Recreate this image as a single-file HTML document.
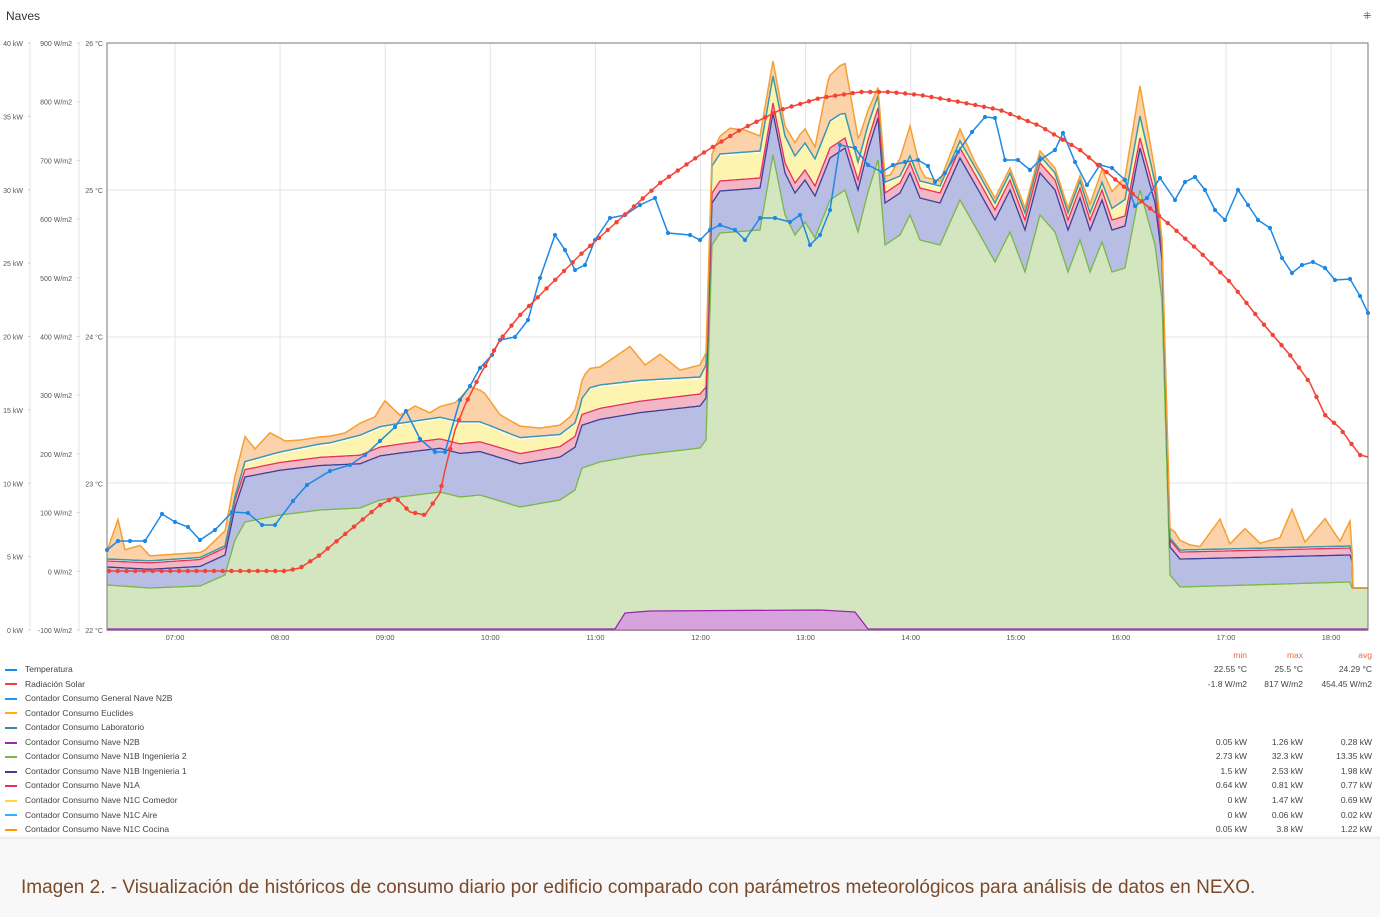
<!DOCTYPE html>
<html><head><meta charset="utf-8">
<style>
body{margin:0;width:1380px;height:916px;background:#fff;font-family:"Liberation Sans",sans-serif;overflow:hidden;position:relative}
.lg{position:absolute;left:5px;font-size:8.5px;color:#444;white-space:nowrap}
.lg i{display:inline-block;width:12px;height:2px;vertical-align:middle;margin-right:8px}
.v{position:absolute;font-size:8.5px;color:#444;text-align:right;width:60px}
</style></head><body>
<div style="position:absolute;left:6px;top:9px;font-size:12px;color:#333">Naves</div>
<div style="position:absolute;left:1363px;top:11px;font-size:10px;color:#444">⁜</div>
<svg id="s" width="1380" height="840" style="position:absolute;left:0;top:0"></svg>
<div id="lg"></div>
<div style="position:absolute;left:0;top:838px;width:1380px;height:78px;background:#f8f8f8;border-top:1px solid #e8e8e8"></div>
<div style="position:absolute;left:21px;top:877px;font-size:19px;color:#7a4a2a;font-family:'Liberation Sans',sans-serif;white-space:nowrap">Imagen 2. - Visualización de históricos de consumo diario por edificio comparado con parámetros meteorológicos para análisis de datos en NEXO.</div>
<script>
const s=document.getElementById('s');let h='';
const X0=107,X1=1368,Y0=43,Y1=630;
const hs=['07:00','08:00','09:00','10:00','11:00','12:00','13:00','14:00','15:00','16:00','17:00','18:00'];
hs.forEach((t,i)=>{const x=175+i*105.1;h+=`<line x1="${x}" y1="${Y0}" x2="${x}" y2="${Y1}" stroke="#e4e4e4"/>`;h+=`<text x="${x}" y="640" font-size="7.5" fill="#555" text-anchor="middle">${t}</text>`});
[190,337,483].forEach(y=>h+=`<line x1="${X0}" y1="${y}" x2="${X1}" y2="${y}" stroke="#e4e4e4"/>`);
for(let i=0;i<=8;i++){const y=Y0+i*73.375;h+=`<text x="23" y="${y+3}" font-size="7" fill="#555" text-anchor="end">${40-5*i} kW</text><line x1="28" y1="${y}" x2="31" y2="${y}" stroke="#ccc"/>`}
for(let i=0;i<=10;i++){const y=Y0+i*58.7;h+=`<text x="72" y="${y+3}" font-size="7" fill="#555" text-anchor="end">${900-100*i} W/m2</text><line x1="77" y1="${y}" x2="80" y2="${y}" stroke="#ccc"/>`}
for(let i=0;i<=4;i++){const y=Y0+i*146.75;h+=`<text x="103" y="${y+3}" font-size="7" fill="#555" text-anchor="end">${26-i} °C</text>`}
h+=`<line x1="30" y1="${Y0}" x2="30" y2="${Y1}" stroke="#e4e4e4"/><line x1="79" y1="${Y0}" x2="79" y2="${Y1}" stroke="#e4e4e4"/>`;
function interp(p,x){for(let i=0;i<p.length-1;i++){if(x<=p[i+1][0]){const t=(x-p[i][0])/(p[i+1][0]-p[i][0]||1);return p[i][1]+t*(p[i+1][1]-p[i][1])}}return p[p.length-1][1]}
const G=[[107,585],[150,588],[200,586],[225,575],[235,540],[245,522],[280,515],[320,510],[360,508],[380,500],[400,497],[440,492],[460,497],[480,495],[520,507],[560,500],[575,490],[582,468],[600,462],[640,455],[700,448],[706,440],[712,245],[720,233],[760,230],[773,155],[785,215],[795,235],[805,222],[815,238],[830,200],[845,190],[858,232],[868,192],[878,160],[885,245],[900,235],[910,215],[920,240],[940,245],[960,200],[980,235],[995,262],[1010,232],[1025,272],[1040,215],[1055,232],[1068,272],[1080,240],[1090,272],[1102,242],[1112,272],[1125,268],[1140,190],[1155,245],[1162,300],[1170,575],[1180,587],[1250,585],[1350,582],[1352,588],[1368,588]];
const B=[[107,18],[225,20],[245,45],[700,42],[712,42],[1160,42],[1170,28],[1352,27],[1353,0],[1368,0]];
const P=[[107,6],[700,12],[712,10],[1160,10],[1170,7],[1352,7],[1353,0],[1368,0]];
const Yw=[[107,0],[230,0],[245,6],[330,12],[360,18],[460,20],[560,10],[580,12],[590,22],[700,15],[712,25],[840,25],[860,15],[900,5],[1100,5],[1140,20],[1160,5],[1170,0],[1368,0]];
const O=[[107,8],[118,40],[125,10],[140,15],[150,5],[205,5],[215,10],[235,20],[245,25],[255,10],[270,22],[285,10],[300,8],[345,6],[360,12],[375,12],[385,25],[400,8],[415,15],[430,6],[455,18],[470,35],[485,30],[500,15],[540,8],[570,10],[585,20],[600,18],[630,35],[645,15],[660,25],[680,8],[700,12],[712,12],[730,25],[745,22],[760,15],[773,15],[785,10],[800,15],[815,12],[828,45],[845,50],[860,20],[878,8],[890,5],[910,30],[925,5],[940,5],[960,12],[975,5],[1000,5],[1040,5],[1080,5],[1120,20],[1140,30],[1160,5],[1175,12],[1190,5],[1200,3],[1220,30],[1230,5],[1245,20],[1260,5],[1280,10],[1292,38],[1305,5],[1325,28],[1340,5],[1350,25],[1352,0],[1368,0]];
let L=[[],[],[],[],[],[]];
for(let x=X0;x<=X1;x+=1){let g=interp(G,x),b=g-interp(B,x),p=b-interp(P,x),y=p-interp(Yw,x),t=y-2,o=t-interp(O,x);if(x>1352){b=p=y=t=o=g}L[0].push([x,g]);L[1].push([x,b]);L[2].push([x,p]);L[3].push([x,y]);L[4].push([x,t]);L[5].push([x,o])}
const pts=a=>a.map(p=>p[0]+','+p[1].toFixed(1)).join(' ');
function band(top,bot,fill){return `<polygon points="${pts(top)} ${pts(bot.slice().reverse())}" fill="${fill}"/>`}
const base=[[X0,Y1],[X1,Y1]];
h+=band(L[0],base,'#d3e6bf');
h+=band(L[1],L[0],'#b8bde3');h+=band(L[2],L[1],'#f2b6c4');h+=band(L[3],L[2],'#fdf4b0');h+=band(L[5],L[4],'#fbd2aa');
h+=`<polyline points="${pts(L[0])}" fill="none" stroke="#7ab648" stroke-width="1.3"/>`;
h+=`<polyline points="${pts(L[1])}" fill="none" stroke="#3f3f9a" stroke-width="1.3"/>`;
h+=`<polyline points="${pts(L[2])}" fill="none" stroke="#e8305a" stroke-width="1.3"/>`;
h+=`<polyline points="${pts(L[4])}" fill="none" stroke="#3b9aa8" stroke-width="1.5"/>`;
h+=`<polyline points="${pts(L[5])}" fill="none" stroke="#f5a030" stroke-width="1.5"/>`;
h+=`<polygon points="107,630 615,630 625,613 650,611 820,610 855,612 868,630 1368,630 1368,631 107,631" fill="#d7a3dc"/>`;
h+=`<polyline points="107,629 615,629 625,613 650,611 820,610 855,612 868,629 1368,629" fill="none" stroke="#9c27b0" stroke-width="1.3"/>`;
const T=[[107,550],[118,541],[130,541],[145,541],[162,514],[175,522],[188,527],[200,540],[215,530],[232,512],[248,513],[262,525],[275,525],[293,501],[307,485],[330,471],[350,465],[365,455],[380,441],[395,427],[406,411],[420,439],[435,452],[445,452],[460,400],[470,386],[480,368],[492,355],[500,340],[515,337],[528,320],[540,278],[555,235],[565,250],[575,270],[585,265],[595,240],[610,218],[625,215],[640,205],[655,198],[668,233],[690,235],[700,240],[710,230],[720,225],[735,230],[745,240],[760,218],[775,218],[790,222],[800,215],[810,245],[820,235],[830,210],[840,145],[855,148],[868,165],[882,172],[893,165],[905,162],[918,160],[928,166],[935,182],[945,173],[958,152],[972,132],[985,117],[995,118],[1005,160],[1018,160],[1030,170],[1040,160],[1055,150],[1063,133],[1075,162],[1087,185],[1100,165],[1112,168],[1125,180],[1135,206],[1147,198],[1160,178],[1175,200],[1185,182],[1195,177],[1205,190],[1215,210],[1225,220],[1238,190],[1248,205],[1258,220],[1270,228],[1282,258],[1292,273],[1302,265],[1313,262],[1325,268],[1335,280],[1350,279],[1360,296],[1368,313]];
h+=`<polyline points="${pts(T)}" fill="none" stroke="#1e88e5" stroke-width="1.5"/>`;
T.forEach(p=>h+=`<circle cx="${p[0]}" cy="${p[1]}" r="2.1" fill="#1e88e5"/>`);
const R=[[107,571],[285,571],[300,568],[320,555],[350,530],[380,505],[395,497],[410,512],[425,515],[440,493],[445,470],[455,430],[465,405],[480,375],[500,340],[520,315],[540,295],[560,275],[580,255],[600,237],[630,210],[660,183],[700,155],[740,130],[780,110],[820,98],[860,92],[890,92],[920,95],[960,102],[1000,110],[1040,126],[1080,150],[1110,175],[1140,200],[1170,225],[1200,252],[1230,282],[1260,320],[1290,355],[1310,383],[1325,415],[1340,428],[1350,442],[1360,455],[1368,457]];
h+=`<polyline points="${pts(R)}" fill="none" stroke="#f44336" stroke-width="1.5"/>`;
for(let x=X0+2;x<X1;x+=8.75){h+=`<circle cx="${x}" cy="${interp(R,x).toFixed(1)}" r="2.2" fill="#f44336"/>`}
h+=`<rect x="${X0}" y="${Y0}" width="${X1-X0}" height="${Y1-Y0}" fill="none" stroke="#777" stroke-width="1"/>`;
h+=`<line x1="0" y1="837" x2="1380" y2="837" stroke="#e8e8e8"/>`;
s.innerHTML=h;
const items=[['Temperatura','#1e88e5',['22.55 °C','25.5 °C','24.29 °C']],['Radiación Solar','#f44336',['-1.8 W/m2','817 W/m2','454.45 W/m2']],['Contador Consumo General Nave N2B','#2196f3'],['Contador Consumo Euclides','#ffb300'],['Contador Consumo Laboratorio','#3b8c9a'],['Contador Consumo Nave N2B','#9c27b0',['0.05 kW','1.26 kW','0.28 kW']],['Contador Consumo Nave N1B Ingenieria 2','#7ab648',['2.73 kW','32.3 kW','13.35 kW']],['Contador Consumo Nave N1B Ingenieria 1','#3f3f9a',['1.5 kW','2.53 kW','1.98 kW']],['Contador Consumo Nave N1A','#e8305a',['0.64 kW','0.81 kW','0.77 kW']],['Contador Consumo Nave N1C Comedor','#fdd835',['0 kW','1.47 kW','0.69 kW']],['Contador Consumo Nave N1C Aire','#29b6f6',['0 kW','0.06 kW','0.02 kW']],['Contador Consumo Nave N1C Cocina','#ff9800',['0.05 kW','3.8 kW','1.22 kW']]];
let g='';
const cx=[1187,1243,1312];
['min','max','avg'].forEach((t,i)=>g+=`<div class="v" style="top:650px;left:${cx[i]}px;color:#f0663a">${t}</div>`);
items.forEach((it,i)=>{const y=664+i*14.55;g+=`<div class="lg" style="top:${y}px"><i style="background:${it[1]}"></i>${it[0]}</div>`;if(it[2])it[2].forEach((v,j)=>g+=`<div class="v" style="top:${y}px;left:${cx[j]}px">${v}</div>`)});
document.getElementById('lg').innerHTML=g;
</script>
</body></html>
